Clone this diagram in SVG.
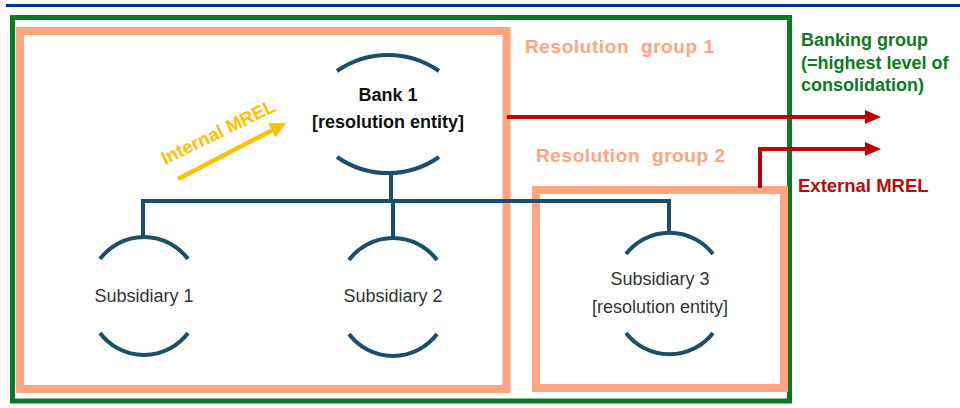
<svg xmlns="http://www.w3.org/2000/svg" width="960" height="408" viewBox="0 0 960 408">
<style>
.arc{fill:none;stroke:#1b4e6d;stroke-width:4;}
.tree{fill:none;stroke:#1b4e6d;stroke-width:4;}
.grp{fill:none;stroke:#ffa480;stroke-width:8;}
.t{font-family:"Liberation Sans",Arial,sans-serif;}
.sub{font-size:18px;fill:#333333;text-anchor:middle;}
.bank{font-size:18px;font-weight:bold;fill:#111111;text-anchor:middle;}
.rg{font-size:19px;font-weight:bold;fill:#ffa480;letter-spacing:0.6px;}
.bg{font-size:18px;font-weight:bold;fill:#0b7a22;}
.ext{font-size:18.5px;font-weight:bold;fill:#b50c0c;}
.imrel{font-size:18.5px;font-weight:bold;fill:#ffc000;}
.red{fill:none;stroke:#c00000;stroke-width:4;}
.gold{fill:none;stroke:#ffc000;stroke-width:4.5;}
</style>
<defs>
<marker id="redHead" markerUnits="userSpaceOnUse" viewBox="0 0 16 14" markerWidth="16" markerHeight="14" refX="0" refY="7" orient="auto">
<path d="M0,0 L16,7 L0,14 Z" fill="#c00000"/>
</marker>
<marker id="goldHead" markerUnits="userSpaceOnUse" viewBox="0 0 16 16" markerWidth="16" markerHeight="16" refX="0" refY="8" orient="auto">
<path d="M0,0 L16,8 L0,16 Z" fill="#ffc000"/>
</marker>
</defs>
<rect width="960" height="408" fill="#ffffff"/>
<line x1="6" y1="5.5" x2="960" y2="5.5" stroke="#003399" stroke-width="3"/>

<g id="banking-group">
<rect x="12.5" y="17.5" width="777" height="383.5" fill="none" stroke="#0b7a22" stroke-width="5"/>
<text class="t bg" x="801" y="46">Banking group</text>
<text class="t bg" x="801" y="69">(=highest level of</text>
<text class="t bg" x="801" y="91">consolidation)</text>
</g>

<g id="resolution-group-1">
<rect class="grp" x="20" y="31" width="486.5" height="358"/>
<text class="t rg" x="525" y="53" xml:space="preserve">Resolution  group 1</text>
</g>

<g id="resolution-group-2">
<rect class="grp" x="536" y="190" width="248" height="198"/>
<text class="t rg" x="536" y="162" xml:space="preserve">Resolution  group 2</text>
</g>

<g id="connectors">
<path class="tree" d="M391,171 V201"/>
<path class="tree" d="M143,237 V201 H669 V232"/>
<path class="tree" d="M393,201 V237"/>
<path class="red" d="M507,117 H865" marker-end="url(#redHead)"/>
<path class="red" d="M760,188 V149 H865" marker-end="url(#redHead)"/>
<path class="gold" d="M178,179 L271.8,130.4" marker-end="url(#goldHead)"/>
</g>

<g id="internal-mrel-label">
<text class="t imrel" x="0" y="0" transform="translate(165,165) rotate(-26)">Internal MREL</text>
</g>

<g id="external-mrel-label">
<text class="t ext" x="798" y="192">External MREL</text>
</g>

<g id="bank1">
<path class="arc" d="M337,71 A89,89 0 0 1 439,71"/>
<path class="arc" d="M337,157 A89,89 0 0 0 439,157"/>
<text class="t bank" x="388" y="101">Bank 1</text>
<text class="t bank" x="388" y="128">[resolution entity]</text>
</g>

<g id="subsidiary1">
<path class="arc" d="M100,259 A55,55 0 0 1 188,259"/>
<path class="arc" d="M100,333 A55,55 0 0 0 188,333"/>
<text class="t sub" x="144" y="302">Subsidiary 1</text>
</g>

<g id="subsidiary2">
<path class="arc" d="M349,260 A55,55 0 0 1 437,260"/>
<path class="arc" d="M349,334 A55,55 0 0 0 437,334"/>
<text class="t sub" x="393" y="302">Subsidiary 2</text>
</g>

<g id="subsidiary3">
<path class="arc" d="M626,254 A55,55 0 0 1 713,254"/>
<path class="arc" d="M626,333 A55,55 0 0 0 713,333"/>
<text class="t sub" x="660" y="285">Subsidiary 3</text>
<text class="t sub" x="660" y="313">[resolution entity]</text>
</g>
</svg>
